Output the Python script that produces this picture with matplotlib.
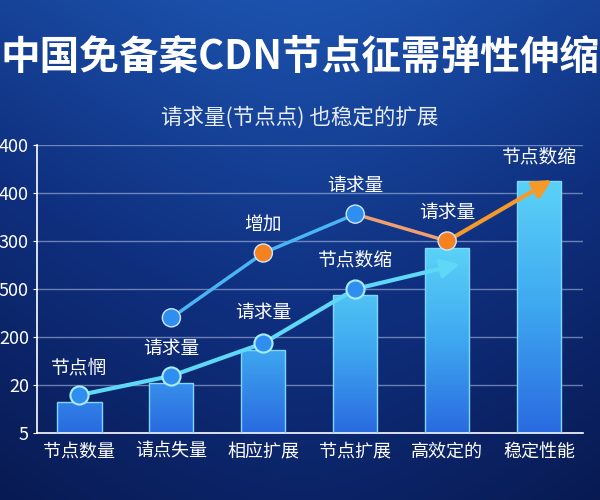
import numpy as np
import matplotlib.pyplot as plt
from matplotlib.colors import LinearSegmentedColormap

plt.rcParams['font.family'] = ['Noto Sans CJK SC', 'DejaVu Sans']

categories = ["节点数量", "请点失量", "相应扩展", "节点扩展", "高效定的", "稳定性能"]
ytick_labels = ["5", "20", "200", "500", "300", "400", "400"]
bar_values = [0.65, 1.04, 1.73, 2.87, 3.85, 5.25]

# lower (cyan) line
low_x = [0, 1, 2, 3]
low_y = [0.79, 1.19, 1.87, 3.0]
low_arrow_end = (4.14, 3.52)
low_labels = ["节点惘", "请求量", "请求量", "节点数缩"]

# upper line
up_x = [1, 2, 3, 4]
up_y = [2.4, 3.75, 4.56, 4.0]
up_colors = ["#2f8ff0", "#f5821f", "#2f8ff0", "#f5821f"]
up_arrow_end = (5.14, 5.27)
up_labels = ["增加", "请求量", "请求量", "节点数缩"]

fig = plt.figure(figsize=(6, 5), dpi=100)

# background gradient
bg = fig.add_axes([0, 0, 1, 1], zorder=-10)
yy, xx = np.mgrid[0:1:300j, 0:1:300j]
val = 1 - 0.6 * yy - 0.5 * np.abs(xx - 0.5) ** 1.5
bg_cmap = LinearSegmentedColormap.from_list("bg", ["#081a52", "#0f2f7e", "#1c52ad"])
bg.imshow(val, cmap=bg_cmap, aspect="auto", extent=[0, 1, 0, 1], origin="upper")
bg.axis("off")

ax = fig.add_axes([0.062, 0.134, 0.91, 0.576])
ax.patch.set_alpha(0)
ax.set_xlim(-0.46, 5.48)
ax.set_ylim(0, 6)

for y in range(1, 7):
    ax.axhline(y, color="#b8c8ea", lw=1, alpha=0.55, zorder=1)

# gradient bars
bar_cmap = LinearSegmentedColormap.from_list("bar", ["#2a6ae0", "#3ea8f0", "#5ad2f7"])
grad = np.linspace(0, 1, 256).reshape(-1, 1)
width = 0.48
bars = ax.bar(range(len(bar_values)), bar_values, width=width, color="none",
              edgecolor="#7fd6ff", lw=1, zorder=3)
for b, v in zip(bars, bar_values):
    x0 = b.get_x()
    im = ax.imshow(grad, cmap=bar_cmap, aspect="auto", origin="lower",
                   extent=[x0, x0 + width, 0, max(v, 3.5)], zorder=2)
    im.set_clip_path(b)

arrow_kw = "-|>,head_length=1.1,head_width=0.55"

# lower line
ax.plot(low_x, low_y, color="#5fd8f8", lw=3, zorder=4, solid_capstyle="round")
ax.annotate("", xy=low_arrow_end, xytext=(low_x[-1], low_y[-1]),
            arrowprops=dict(arrowstyle=arrow_kw, color="#5fd8f8", lw=3,
                            shrinkA=0, shrinkB=0), zorder=4)
ax.scatter(low_x, low_y, s=170, color="#2f8ff0", edgecolor="#a9ecff", lw=1.5, zorder=5)

# upper line
ax.plot(up_x[:3], up_y[:3], color="#4ab4f5", lw=2.5, zorder=4)
ax.plot(up_x[2:4], up_y[2:4], color="#f0a070", lw=2.5, zorder=4)
ax.annotate("", xy=up_arrow_end, xytext=(up_x[-1], up_y[-1]),
            arrowprops=dict(arrowstyle=arrow_kw, color="#f59a2a", lw=3,
                            shrinkA=0, shrinkB=0), zorder=4)
ax.scatter(up_x, up_y, s=170, color=up_colors, edgecolor="#cfe6ff", lw=1, zorder=5)

# labels
lab_kw = dict(ha="center", va="center", color="white", fontsize=13.5, zorder=6)
low_offsets = [0.57, 0.57, 0.65, 0.6]
for x, y, t, o in zip(low_x, low_y, low_labels, low_offsets):
    ax.text(x, y + o, t, **lab_kw)
up_offsets = [0.0, 0.57, 0.6, 0.6]
for x, y, t, o in zip(up_x[1:], up_y[1:], up_labels[:3], up_offsets[1:]):
    ax.text(x, y + o, t, **lab_kw)
ax.text(5, 5.75, up_labels[3], **lab_kw)

ax.set_yticks(range(7))
ax.set_yticklabels(ytick_labels)
ax.set_xticks(range(len(categories)))
ax.set_xticklabels(categories)
ax.tick_params(axis="y", colors="white", labelsize=13, length=3, pad=3)
ax.tick_params(axis="x", colors="white", labelsize=13, length=0, pad=7)
for s in ["top", "right"]:
    ax.spines[s].set_visible(False)
for s in ["left", "bottom"]:
    ax.spines[s].set_color("white")
    ax.spines[s].set_linewidth(1.2)

fig.text(0.5, 0.885, "中国免备案CDN节点征需弹性伸缩", ha="center", va="center",
         color="white", fontsize=28.5, fontweight="bold")
fig.text(0.5, 0.765, "请求量(节点点) 也稳定的扩展", ha="center", va="center",
         color="#e8eef8", fontsize=15.5)

fig.savefig("out.png", dpi=100)
